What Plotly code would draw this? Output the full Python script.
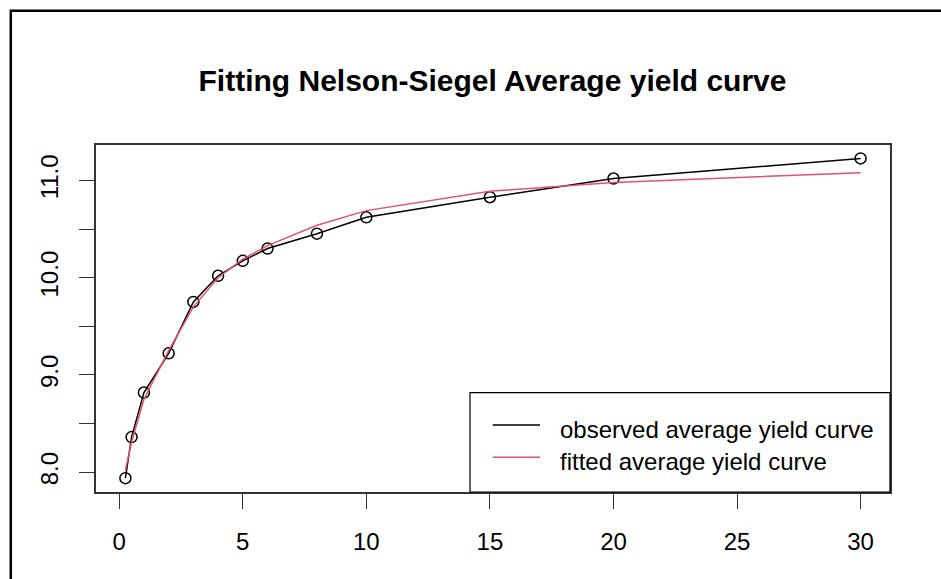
import plotly.graph_objects as go

# Data
maturity = [0.25, 0.5, 1, 2, 3, 4, 5, 6, 8, 10, 15, 20, 30]
observed = [7.938, 8.361, 8.819, 9.222, 9.751, 10.02, 10.174, 10.30, 10.453, 10.621, 10.828, 11.02, 11.227]
fitted = [8.02, 8.31, 8.75, 9.25, 9.70, 10.00, 10.19, 10.33, 10.54, 10.69, 10.89, 10.98, 11.08]
x_ticks = [0, 5, 10, 15, 20, 25, 30]
y_ticks = [8.0, 8.5, 9.0, 9.5, 10.0, 10.5, 11.0]
y_ticktext = ["8.0", "", "9.0", "", "10.0", "", "11.0"]
title_text = "Fitting Nelson-Siegel Average yield curve"
legend_names = ["observed average yield curve", "fitted average yield curve"]

FONT = "Liberation Sans, Arial, sans-serif"
RED = "#DF536B"

fig = go.Figure()
fig.add_trace(go.Scatter(x=maturity, y=observed, mode="lines+markers",
                         line=dict(color="black", width=1.5),
                         marker=dict(symbol="circle-open", size=11, color="black",
                                     line=dict(width=1.5, color="black")),
                         name=legend_names[0], showlegend=False))
fig.add_trace(go.Scatter(x=maturity, y=fitted, mode="lines",
                         line=dict(color=RED, width=1.5),
                         name=legend_names[1], showlegend=False))

W, H = 941, 579
L, R, T, B = 96, 51, 145, 87
pw, ph = W - L - R, H - T - B

def px(xp):
    return (xp - L) / pw

def py(yp):
    return (H - B - yp) / ph

fig.update_layout(
    width=W, height=H,
    margin=dict(l=L, r=R, t=T, b=B),
    paper_bgcolor="white", plot_bgcolor="white",
    font=dict(family=FONT, size=24, color="black"),
    title=dict(text="<b>" + title_text + "</b>", x=px(492.5), xref="paper", xanchor="center",
               y=1 - 80 / H, yref="container", yanchor="middle",
               font=dict(family=FONT, size=30, color="black")),
    xaxis=dict(range=[-0.94, 31.19], tickvals=x_ticks, ticks="outside", ticklen=15,
               tickwidth=1, tickcolor="#333", showline=True, linecolor="#333", linewidth=1.5,
               mirror=True, showgrid=False, zeroline=False, ticklabelstandoff=12,
               tickfont=dict(size=24, color="black")),
    yaxis=dict(range=[7.796, 11.365], tickvals=y_ticks, ticktext=y_ticktext, ticks="outside",
               ticklen=15, tickwidth=1, tickcolor="#333", showline=True, linecolor="#333",
               linewidth=1.5, mirror=True, showgrid=False, zeroline=False, tickangle=-90,
               ticklabelstandoff=12, tickfont=dict(size=24, color="black")),
)

# outer border (left and top edges visible)
fig.add_shape(type="rect", xref="paper", yref="paper",
              x0=px(10.8), x1=px(1000), y0=py(700), y1=py(10.8),
              line=dict(color="black", width=2.5), fillcolor="rgba(0,0,0,0)", layer="below")

# legend box
fig.add_shape(type="rect", xref="paper", yref="paper",
              x0=px(470), x1=1, y0=0, y1=py(392.7),
              line=dict(color="black", width=1.2), fillcolor="white", layer="above")
for yy, col in [(425, "black"), (457.3, RED)]:
    fig.add_shape(type="line", xref="paper", yref="paper",
                  x0=px(492.7), x1=px(540), y0=py(yy), y1=py(yy),
                  line=dict(color=col, width=1.5), layer="above")
for yy, name in [(429, legend_names[0]), (461, legend_names[1])]:
    fig.add_annotation(xref="paper", yref="paper", x=px(558), y=py(yy),
                       xanchor="left", yanchor="middle", text=name, showarrow=False,
                       font=dict(family=FONT, size=24, color="black"))

fig.write_html("out.html")
